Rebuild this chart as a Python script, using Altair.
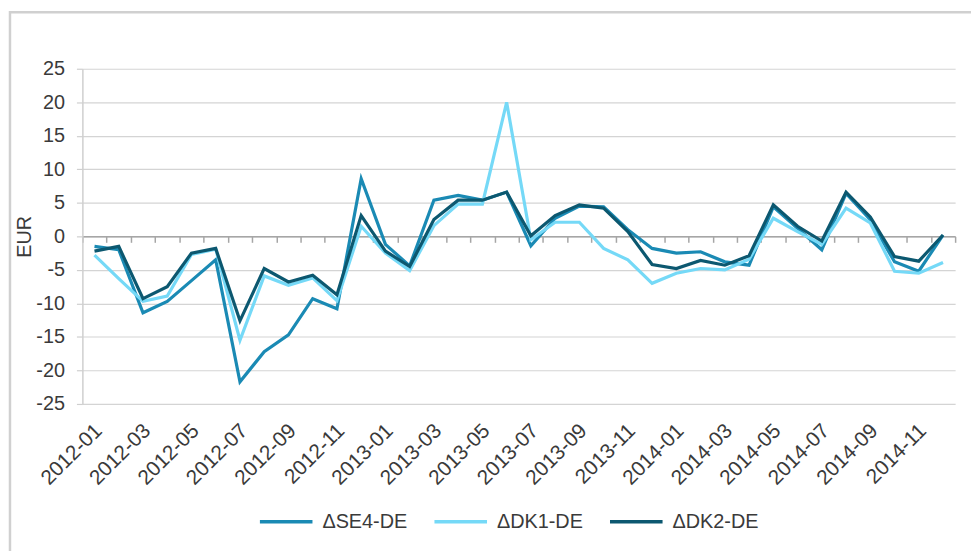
import altair as alt
import pandas as pd

months = [
    "2012-01", "2012-02", "2012-03", "2012-04", "2012-05", "2012-06",
    "2012-07", "2012-08", "2012-09", "2012-10", "2012-11", "2012-12",
    "2013-01", "2013-02", "2013-03", "2013-04", "2013-05", "2013-06",
    "2013-07", "2013-08", "2013-09", "2013-10", "2013-11", "2013-12",
    "2014-01", "2014-02", "2014-03", "2014-04", "2014-05", "2014-06",
    "2014-07", "2014-08", "2014-09", "2014-10", "2014-11", "2014-12",
]
tick_labels = [
    "2012-01", "2012-03", "2012-05", "2012-07", "2012-09", "2012-11",
    "2013-01", "2013-03", "2013-05", "2013-07", "2013-09", "2013-11",
    "2014-01", "2014-03", "2014-05", "2014-07", "2014-09", "2014-11",
]
y_ticks = [-25, -20, -15, -10, -5, 0, 5, 10, 15, 20, 25]
series_names = ["ΔSE4-DE", "ΔDK1-DE", "ΔDK2-DE"]
se4 = [-1.5, -2.0, -11.4, -9.7, -6.6, -3.5, -21.7, -17.2, -14.7, -9.3, -10.8, 8.6,
       -1.2, -4.4, 5.4, 6.1, 5.4, 6.6, -1.4, 2.7, 4.5, 4.4, 1.0, -1.8,
       -2.5, -2.3, -3.8, -4.3, 4.4, 1.2, -2.0, 6.4, 2.5, -3.8, -5.2, 0.2]
dk1 = [-2.8, -6.3, -9.7, -8.9, -2.7, -1.9, -15.5, -5.9, -7.3, -6.2, -9.6, 1.5,
       -2.5, -5.1, 1.6, 4.8, 4.8, 20.0, -0.5, 2.1, 2.1, -1.8, -3.5, -7.0,
       -5.5, -4.8, -5.0, -3.4, 2.7, 0.7, -1.2, 4.2, 2.0, -5.2, -5.5, -3.9]
dk2 = [-2.2, -1.5, -9.3, -7.5, -2.5, -1.8, -12.6, -4.8, -6.8, -5.8, -8.7, 3.1,
       -2.2, -4.5, 2.5, 5.4, 5.4, 6.6, 0.1, 3.1, 4.7, 4.2, 0.7, -4.2,
       -4.8, -3.6, -4.3, -2.9, 4.7, 1.5, -0.7, 6.6, 2.9, -3.0, -3.7, 0.2]
colors = ["#1a8ab4", "#75d9f7", "#0c5870"]

rows = []
for name, vals in zip(series_names, [se4, dk1, dk2]):
    for m, v in zip(months, vals):
        rows.append({"month": m, "value": v, "series": name})
df = pd.DataFrame(rows)

FONT = "Liberation Sans"
TXT = "#3a3a3a"

xscale = alt.Scale(type="band", domain=months, paddingInner=0, paddingOuter=0)
yscale = alt.Scale(domain=[-25, 25], nice=False)
yaxis = alt.Axis(
    values=y_ticks, labelExpr="'' + datum.value",
    title="EUR", grid=True, gridColor="#d4d4d4", gridWidth=1.2,
    domain=True, domainColor="#cfcfcf", domainWidth=1.5,
    ticks=True, tickColor="#cfcfcf", tickSize=6, tickWidth=1.2,
    labelPadding=12, labelFontSize=20, titleFontSize=20, titleFontWeight="normal",
    titleX=-48, titleY=169, titleAngle=-90, titleBaseline="bottom", titleAlign="center",
)

frame = alt.Chart(pd.DataFrame({"a": [0]})).mark_rect(
    fillOpacity=0, stroke="#d0d0d0", strokeWidth=2.5
).encode(
    x=alt.value(-73), x2=alt.value(1000), y=alt.value(-57), y2=alt.value(700)
)

lines = alt.Chart(df).mark_line(strokeWidth=3.2).encode(
    x=alt.X("month:O", scale=xscale, bandPosition=0.5,
            axis=alt.Axis(orient="bottom", values=tick_labels, title=None,
                          labelAngle=-45, labelAlign="right", labelBaseline="middle",
                          labelPadding=19, labelFontSize=21, translate=5,
                          ticks=False, domain=False, grid=False, labelOverlap=False)),
    y=alt.Y("value:Q", scale=yscale, axis=yaxis),
    color=alt.Color("series:N", scale=alt.Scale(domain=series_names, range=colors),
                    legend=alt.Legend(orient="none", legendX=177, legendY=428,
                                      direction="horizontal", title=None,
                                      symbolType="stroke", symbolSize=2809,
                                      symbolStrokeWidth=3.5, labelFontSize=20,
                                      labelOffset=8, columnPadding=20)),
)

zero_axis = alt.Chart(df).mark_line(strokeOpacity=0).encode(
    x=alt.X("month:O", scale=xscale, bandPosition=0.5,
            axis=alt.Axis(orient="bottom", offset=-169, labels=False, title=None,
                          ticks=True, tickBand="extent", tickSize=6, tickColor="#a6a6a6",
                          tickWidth=1.5, domain=True, domainColor="#a6a6a6",
                          domainWidth=1.5, grid=False)),
    y=alt.Y("value:Q", scale=yscale, axis=yaxis),
    detail="series:N",
)

chart = alt.layer(frame, zero_axis, lines).resolve_axis(x="independent").properties(
    width=880, height=338,
    autosize=alt.AutoSizeParams(type="none"),
    padding={"left": 75, "top": 59, "right": 16, "bottom": 146},
).configure_axis(
    labelFont=FONT, titleFont=FONT, labelColor=TXT, titleColor=TXT,
).configure_legend(
    labelFont=FONT, labelColor=TXT,
).configure_view(strokeWidth=0)

chart.save("out.html", embed_options={"renderer": "svg", "actions": False})
